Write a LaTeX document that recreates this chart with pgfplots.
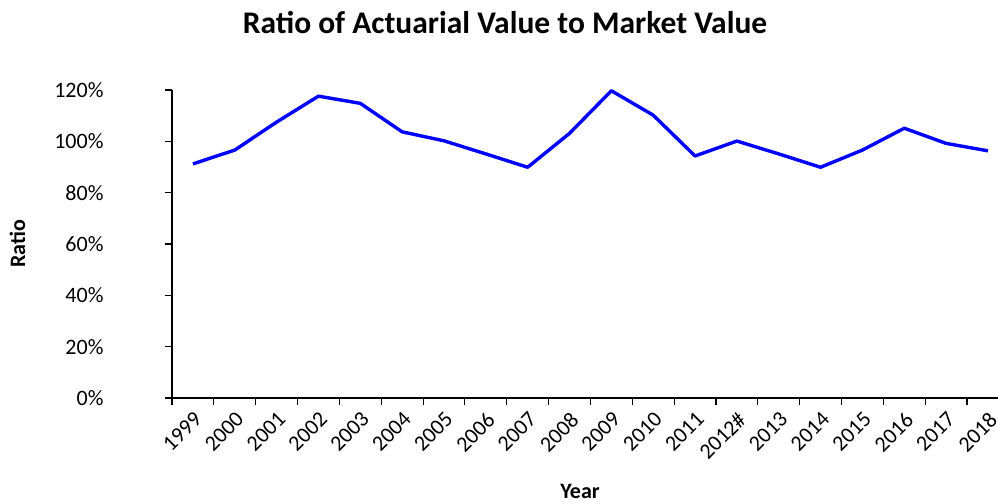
\documentclass[border=0pt]{standalone}
\usepackage{fontspec}
\setmainfont{Carlito}
\usepackage{pgfplots}
\pgfplotsset{compat=1.18}
\begin{document}
\begin{tikzpicture}
\path[use as bounding box] (0,0) rectangle (998bp,504bp);
\begin{axis}[
  at={(172bp,106bp)}, anchor=south west,
  scale only axis, width=826bp, height=308bp,
  xmin=-0.5, xmax=19.24, ymin=0, ymax=120,
  axis lines*=left,
  axis line style={line width=1.1bp, black},
  tick style={line width=1.1bp, black},
  tick align=outside, major tick length=7bp,
  xtick={-0.5,0.5,...,18.5},
  xticklabels={1999,2000,2001,2002,2003,2004,2005,2006,2007,2008,2009,2010,2011,2012\#,2013,2014,2015,2016,2017,2018},
  xticklabel style={xshift=20.9bp, yshift=-1bp, rotate=45, anchor=north east, font=\fontsize{22bp}{26bp}\selectfont},
  ytick={0,20,...,120},
  yticklabel={\pgfmathprintnumber{\tick}\%},
  yticklabel style={xshift=-58bp, anchor=east, font=\fontsize{22bp}{26bp}\selectfont},
  /pgf/number format/assume math mode=true,
  clip=false,
]
\addplot[blue, line width=3.4bp, line join=round] coordinates {
(0,91.2) (1,96.6) (2,107.5) (3,117.6) (4,114.8) (5,103.7) (6,100.2) (7,95.1) (8,89.9) (9,103.1)
(10,119.7) (11,110.2) (12,94.3) (13,100.1) (14,95.1) (15,89.9) (16,96.6) (17,105.1) (18,99.2) (19,96.3)
};
\end{axis}
\node[anchor=base, font=\fontsize{31.5bp}{36bp}\selectfont\bfseries] at (505bp,470bp) {Ratio of Actuarial Value to Market Value};
\node[anchor=base, rotate=90, font=\fontsize{22bp}{26bp}\selectfont\bfseries] at (25bp,260bp) {Ratio};
\node[anchor=base, font=\fontsize{22bp}{26bp}\selectfont\bfseries] at (580bp,6bp) {Year};
\end{tikzpicture}
\end{document}
